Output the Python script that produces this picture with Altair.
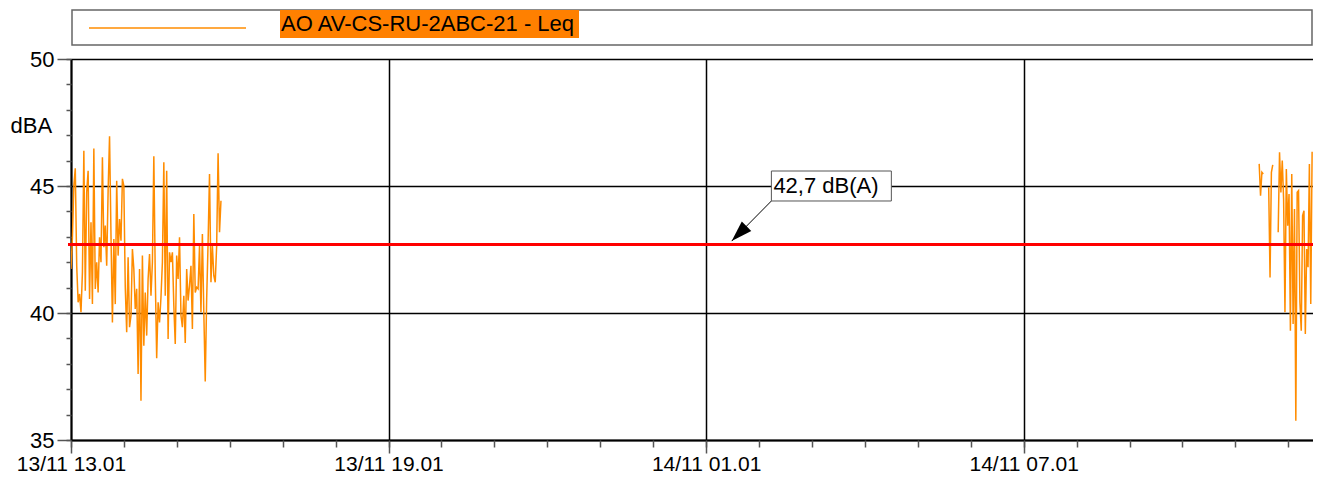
import datetime as dt
import altair as alt
import pandas as pd

# ---------------- data ----------------
SERIES = "AO AV-CS-RU-2ABC-21 - Leq"
LEVEL = 42.7
LEVEL_TEXT = "42,7 dB(A)"
Y_TITLE = "dBA"

# first measuring block (13/11 13:01 -> 15:51), dB(A)
left_values = [
    41.73, 42.98, 45.01, 45.70, 41.86, 40.42, 40.75, 40.03, 41.60, 46.39,
    40.88, 44.75, 45.60, 40.55, 43.57, 40.35, 46.48, 40.95, 42.00, 40.81,
    42.98, 42.00, 46.13, 42.59, 43.44, 41.86, 44.82, 46.96, 43.05, 39.63,
    42.91, 40.35, 45.21, 42.26, 43.70, 42.85, 45.28, 45.01, 41.01, 39.24,
    42.19, 39.44, 39.90, 42.52, 41.73, 40.16, 40.95, 37.60, 41.73, 36.55,
    42.26, 38.71, 40.81, 39.11, 41.34, 42.32, 40.68, 42.00, 46.17, 41.47,
    38.22, 40.42, 39.63, 40.62, 42.00, 45.93, 40.68, 45.60, 38.98, 42.39,
    42.00, 42.39, 40.29, 38.78, 42.26, 41.34, 42.98, 39.90, 39.44, 40.68,
    38.82, 41.73, 40.49, 41.08, 41.86, 39.37, 43.90, 40.81, 41.01, 40.95,
    42.65, 40.03, 43.11, 40.03, 37.30, 40.55, 42.78, 45.47, 41.21, 42.65,
    41.47, 41.21, 42.65, 46.29, 43.18, 44.42,
]
left_start, left_end = "2021-11-13T13:01:00", "2021-11-13T15:51:00"

# second measuring block (14/11 11:28 -> 12:28), None = no data
right_values = [
    45.87, 44.62, 45.54, 45.47, None, None, None,
    44.95, 41.40, 45.54, 45.83, None, None, None,
    43.18, 46.33, 44.75, 46.00, 44.49, 40.03, 45.67, 43.44, 44.68, 39.30,
    45.47, 39.57, 44.09, 35.76, 44.75, 44.82, 40.42, 39.30, 43.83, 44.03,
    39.17, 42.52, 41.80, 45.87, 40.35, 46.35,
]
right_start, right_end = "2021-11-14T11:28:00", "2021-11-14T12:28:00"

x_start = dt.datetime(2021, 11, 13, 13, 1)
x_end = dt.datetime(2021, 11, 14, 12, 29)
y_major = [35, 40, 45, 50]
y_minor = list(range(35, 51))

# annotation anchor (time, level)
ann_box = {"t0": "2021-11-14T02:15:00", "t1": "2021-11-14T04:31:00", "y0": 44.41, "y1": 45.59}
ann_tip = {"t": "2021-11-14T01:30:00", "y": 42.83}

# ---------------- build tables ----------------
def seg_frame(values, start, end, seg0):
    t = pd.date_range(start, end, periods=len(values))
    df = pd.DataFrame({"t": t, "v": pd.array(values, dtype="Float64")})
    df["seg"] = df["v"].isna().cumsum() + seg0
    df = df.dropna().copy()
    df["v"] = df["v"].astype(float)
    df["t"] = df["t"].dt.strftime("%Y-%m-%dT%H:%M:%S")
    return df

data = pd.concat([seg_frame(left_values, left_start, left_end, 0),
                  seg_frame(right_values, right_start, right_end, 10)])

def DT(d):
    return alt.DateTime(year=d.year, month=d.month, date=d.day, hours=d.hour, minutes=d.minute)

x_major = [DT(x_start + dt.timedelta(hours=6 * i)) for i in range(4)]
x_minor = [DT(x_start + dt.timedelta(hours=i)) for i in range(24)]
x_scale = alt.Scale(domain=[DT(x_start), DT(x_end)])
y_scale = alt.Scale(domain=[35, 50])

W, H = 1242, 381
FONT = "Liberation Sans"
ORANGE = "#ff8c00"

# ---------------- layers ----------------
line = alt.Chart(data).mark_line(color=ORANGE, strokeWidth=1.5, clip=True).encode(
    x=alt.X("t:T", scale=x_scale, axis=alt.Axis(
        orient="bottom", values=x_major, format="%d/%m %H.%M", title=None, grid=True,
        gridColor="black", gridWidth=1.5, tickSize=13, tickColor="#555",
        tickWidth=1.5, domainColor="black", domainWidth=2, labelFontSize=21,
        labelFont=FONT, labelColor="black", labelPadding=0, labelFlush=False,
        labelOverlap=False, labelBound=False)),
    y=alt.Y("v:Q", scale=y_scale, axis=alt.Axis(
        orient="left", values=y_major, title=Y_TITLE, grid=True, gridColor="black",
        gridWidth=1.5, tickSize=14, tickColor="#555", tickWidth=1.5,
        domainColor="black", domainWidth=2, labelFontSize=22, labelFont=FONT,
        labelColor="black", labelPadding=3, titleAngle=0, titleAlign="left",
        titleBaseline="middle", titleX=-61, titleY=66, titleFontSize=22,
        titleFont=FONT, titleFontWeight="normal", titleColor="black")),
    detail="seg:N",
)

minor = alt.Chart(data).mark_point(opacity=0).encode(
    x=alt.X("t:T", scale=x_scale, axis=alt.Axis(
        orient="bottom", values=x_minor, labels=False, grid=False, domain=False,
        title=None, tickSize=7, tickColor="#555", tickWidth=1.5)),
    y=alt.Y("v:Q", scale=y_scale, axis=alt.Axis(
        orient="left", values=y_minor, labels=False, grid=False, domain=False,
        title=None, tickSize=5, tickColor="#555", tickWidth=1.5)),
)

level_df = pd.DataFrame({"level": [LEVEL]})
level = alt.Chart(level_df).mark_rule(color="#ff0000", strokeWidth=3).encode(
    y=alt.Y("level:Q", scale=y_scale, axis=None),
    x=alt.value(-3), x2=alt.value(W),
)

arrow_df = pd.DataFrame({"t": [ann_tip["t"]], "y": [ann_tip["y"]],
                         "t2": [ann_box["t0"]], "y2": [ann_box["y0"]]})
arrow_line = alt.Chart(arrow_df).mark_rule(color="black", strokeWidth=1).encode(
    x=alt.X("t:T", scale=x_scale, axis=None), y=alt.Y("y:Q", scale=y_scale, axis=None),
    x2="t2:T", y2="y2:Q")
arrow_head = alt.Chart(arrow_df).mark_point(
    shape="M0,0 L0.933,-0.481 L0.481,-0.933 Z", filled=True, size=1764,
    color="black", opacity=1).encode(
    x=alt.X("t:T", scale=x_scale, axis=None), y=alt.Y("y:Q", scale=y_scale, axis=None))

box_df = pd.DataFrame({"t0": [ann_box["t0"]], "t1": [ann_box["t1"]],
                       "y0": [ann_box["y0"]], "y1": [ann_box["y1"]],
                       "label": [LEVEL_TEXT], "ym": [(ann_box["y0"] + ann_box["y1"]) / 2]})
box = alt.Chart(box_df).mark_rect(fill="white", stroke="#555", strokeWidth=1).encode(
    x=alt.X("t0:T", scale=x_scale, axis=None), x2="t1:T",
    y=alt.Y("y0:Q", scale=y_scale, axis=None), y2="y1:Q")
box_text = alt.Chart(box_df).mark_text(align="left", baseline="middle", dx=2,
                                       fontSize=22, font=FONT, color="black").encode(
    x=alt.X("t0:T", scale=x_scale, axis=None),
    y=alt.Y("ym:Q", scale=y_scale, axis=None), text="label:N")

leg_df = pd.DataFrame({"name": [SERIES]})
leg_box = alt.Chart(leg_df).mark_rect(fill="white", stroke="#666", strokeWidth=1.5).encode(
    x=alt.value(1), x2=alt.value(W - 1), y=alt.value(-49), y2=alt.value(-14))
leg_line = alt.Chart(leg_df).mark_rule(color=ORANGE, strokeWidth=1.5).encode(
    x=alt.value(18), x2=alt.value(175), y=alt.value(-31))
leg_hl = alt.Chart(leg_df).mark_rect(fill="#ff8000").encode(
    x=alt.value(209), x2=alt.value(508), y=alt.value(-49), y2=alt.value(-21))
leg_text = alt.Chart(leg_df).mark_text(align="left", baseline="middle", fontSize=22,
                                       font=FONT, color="black").encode(
    x=alt.value(210), y=alt.value(-35), text="name:N")

chart = alt.layer(
    line, minor, level, arrow_line, arrow_head, box, box_text,
    leg_box, leg_line, leg_hl, leg_text,
).resolve_axis(x="independent", y="independent").properties(
    width=W, height=H,
    autosize=alt.AutoSizeParams(type="none"),
    padding={"left": 63, "top": 51, "right": 0, "bottom": 35},
).configure_view(stroke="#888", strokeWidth=1).configure(font=FONT)

chart.save("out.html", embed_options={"renderer": "svg", "actions": False})
